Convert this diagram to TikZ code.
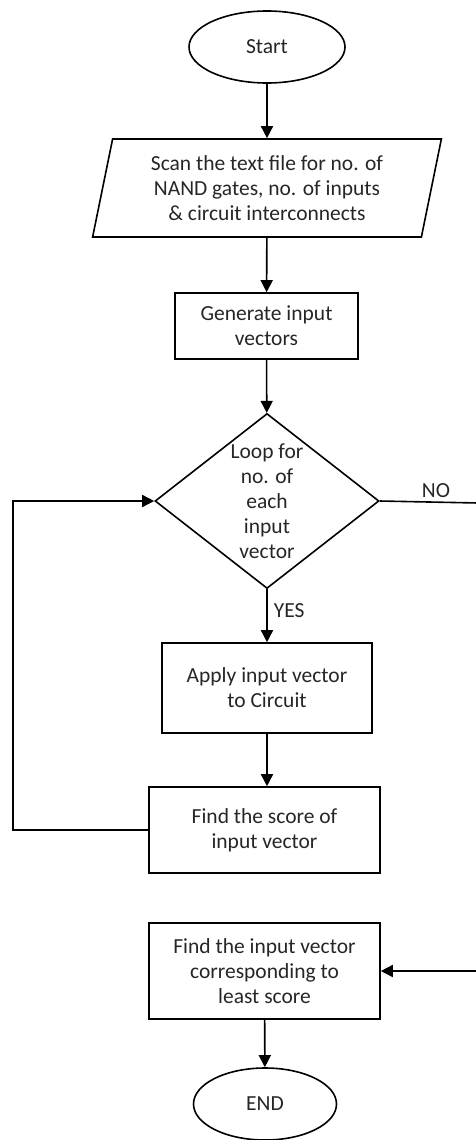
\documentclass[tikz,border=0pt]{standalone}
\usepackage{fontspec}
\setmainfont{Carlito}
\usetikzlibrary{shapes.geometric,arrows.meta}
\begin{document}
\begin{tikzpicture}[
        x=1pt, y=-1pt,
        every node/.style={font=\fontsize{21.5}{25}\selectfont, text=black!85, align=center, inner sep=0pt},
        termn/.style={draw, ellipse, line width=1.6pt},
        procn/.style={draw, rectangle, line width=1.6pt},
        ion/.style={draw, trapezium, trapezium left angle=77, trapezium right angle=103,
            trapezium stretches=true, line width=1.6pt},
        decn/.style={draw, diamond, line width=1.6pt},
        flow/.style={draw, line width=1.6pt, -{Triangle[width=12pt,length=12pt]}},
    ]
    \useasboundingbox (0,0) rectangle (475,1140);

    \node[termn, minimum width=156pt, minimum height=72pt] (start) at (267,47) {Start};
    \node[ion, minimum width=350pt, minimum height=98pt] (scan) at (267,188)
        {Scan the text file for no. of\\NAND gates, no. of inputs\\\& circuit interconnects};
    \node[procn, minimum width=183pt, minimum height=66pt] (gen) at (266.5,326)
        {Generate input\\vectors};
    \node[decn, minimum width=224pt, minimum height=175pt] (dec) at (267,501) {};
    \node (loop) at (dec.center) {Loop for\\no. of\\each\\input\\vector};
    \node[procn, minimum width=210pt, minimum height=90pt] (apply) at (267,688)
        {Apply input vector\\to Circuit};
    \node[procn, minimum width=231pt, minimum height=86pt] (score) at (264.5,830)
        {Find the score of\\input vector};
    \node[procn, minimum width=231pt, minimum height=96pt] (final) at (264.5,971)
        {Find the input vector\\corresponding to\\least score};
    \node[termn, minimum width=143pt, minimum height=72pt] (stop) at (265,1104) {END};

    \draw[flow] (start) -- (scan);
    \draw[flow] (scan) -- (gen);
    \draw[flow] (gen) -- (dec);
    \draw[flow] (dec.south) -- (apply.north) node[pos=0.4, right=6pt] (yes) {YES};
    \draw[flow] (apply.south) -- (apply.south |- score.north);
    \draw[flow] (score.west) -- (13,830) |- (dec.west);
    \draw[flow] (dec.east) -- (478,503) |- (final.east);
    \node (no) at (436,491) {NO};
    \draw[flow] (final) -- (stop);
\end{tikzpicture}
\end{document}
